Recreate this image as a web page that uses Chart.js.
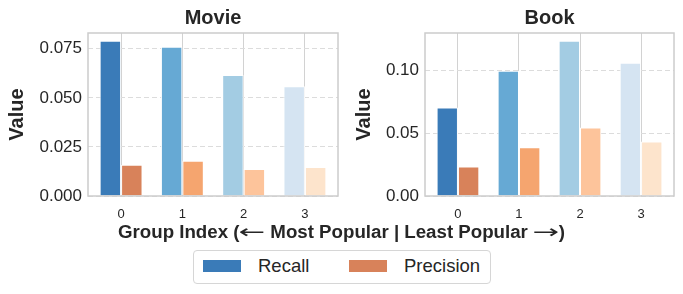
<!DOCTYPE html>
<html>
<head>
<meta charset="utf-8">
<script src="https://cdn.jsdelivr.net/npm/chart.js@4.4.0/dist/chart.umd.min.js"></script>
<style>
  body { margin: 0; background: #fff; font-family: "Liberation Sans", Arial, sans-serif; color: #262626; }
  #wrap { position: relative; width: 683px; height: 294px; overflow: hidden; }
  #wrap canvas { position: absolute; top: 0; }
  #xlabel { position: absolute; left: 0; width: 683px; top: 222px; text-align: center; font-weight: bold; font-size: 18.7px; line-height: 20px; white-space: nowrap; }
  #xlabel .arr { display: inline-block; font-family: "DejaVu Sans", sans-serif; font-weight: normal; transform: scaleX(1.7); margin: 0 5px; }
  #legend { position: absolute; left: 193px; top: 250px; width: 298px; height: 34px; box-sizing: border-box;
            border: 1px solid #d6d6d6; border-radius: 4px; background: #fff; }
  .patch { position: absolute; top: 9px; width: 38px; height: 12px; }
  .ltext { position: absolute; top: 5px; font-size: 18.5px; line-height: 20px; }
</style>
</head>
<body>
<div id="wrap">
  <canvas id="movie" width="345" height="225" style="left:0"></canvas>
  <canvas id="book" width="343" height="225" style="left:340px"></canvas>
  <div id="xlabel">Group Index (<span class="arr">←</span> Most Popular | Least Popular <span class="arr">→</span>)</div>
  <div id="legend"></div>
</div>
<script>
// data
const groups = ['0', '1', '2', '3'];
const seriesNames = ['Recall', 'Precision'];

const movieRecall    = [0.0791, 0.0760, 0.0616, 0.0559];
const moviePrecision = [0.0159, 0.0179, 0.0137, 0.0148];
const bookRecall     = [0.0706, 0.0998, 0.1238, 0.1063];
const bookPrecision  = [0.0235, 0.0389, 0.0547, 0.0434];

const movieTicks = [0, 0.025, 0.05, 0.075];
const movieTickLabels = ['0.000', '0.025', '0.050', '0.075'];
const bookTicks = [0, 0.05, 0.10];
const bookTickLabels = ['0.00', '0.05', '0.10'];

// colours: one shade per group
const recallColors    = ['#3a7bb8', '#66a9d4', '#a3cce3', '#d5e4f2'];
const precisionColors = ['#d8825a', '#f5a56f', '#fdc49b', '#fde4cc'];
const textColor = '#262626';
const fontFam = '"Liberation Sans", Arial, sans-serif';

const framePlugin = {
  id: 'frame',
  afterDraw(chart) {
    const { ctx, chartArea: a } = chart;
    ctx.save();
    ctx.strokeStyle = '#cccccc';
    ctx.lineWidth = 1.5;
    ctx.strokeRect(a.left, a.top, a.right - a.left, a.bottom - a.top);
    ctx.restore();
  }
};

function makeChart(id, title, recall, precision, ticks, tickLabels, yWidth, yTitlePad, rightPad) {
  const ymax = Math.max(...recall, ...precision) * 1.05;
  const pts = arr => arr.map((v, i) => ({ x: i, y: v }));
  return new Chart(document.getElementById(id), {
    type: 'bar',
    data: {
      datasets: [
        { label: seriesNames[0], data: pts(recall), backgroundColor: recallColors,
          borderColor: '#ffffff', borderWidth: 1 },
        { label: seriesNames[1], data: pts(precision), backgroundColor: precisionColors,
          borderColor: '#ffffff', borderWidth: 1 }
      ]
    },
    options: {
      responsive: false,
      animation: false,
      categoryPercentage: 0.7,
      barPercentage: 1.0,
      layout: { padding: { left: 0, right: rightPad, top: 0, bottom: 0 } },
      plugins: {
        legend: { display: false },
        tooltip: { enabled: false },
        title: {
          display: true, text: title, color: textColor, fullSize: false,
          font: { family: fontFam, size: 20, weight: 'bold' },
          padding: { top: 6, bottom: 3 }
        }
      },
      scales: {
        x: {
          type: 'linear', min: -0.54, max: 3.54, offset: false,
          grid: { display: true, offset: false, color: '#d2d2d2', lineWidth: 1, drawTicks: false },
          border: { display: false },
          ticks: { color: textColor, padding: 11, font: { family: fontFam, size: 13 },
                   callback: v => groups[v] },
          afterBuildTicks(scale) { scale.ticks = groups.map((g, i) => ({ value: i })); },
          afterFit(scale) { scale.height = 29; }
        },
        y: {
          min: 0, max: ymax,
          grid: { color: '#dcdcdc', lineWidth: 1, drawTicks: false },
          border: { display: false, dash: [5, 3] },
          ticks: {
            color: textColor, padding: 6,
            font: { family: fontFam, size: 17 },
            callback: (v, i) => tickLabels[i]
          },
          afterBuildTicks(scale) { scale.ticks = ticks.map(v => ({ value: v })); },
          afterFit(scale) { scale.width = yWidth; },
          title: {
            display: true, text: 'Value', color: textColor,
            font: { family: fontFam, size: 20, weight: 'bold' },
            padding: { top: yTitlePad, bottom: 0 }
          }
        }
      }
    },
    plugins: [framePlugin]
  });
}

makeChart('movie', 'Movie', movieRecall, moviePrecision, movieTicks, movieTickLabels, 88, 5, 7);
makeChart('book', 'Book', bookRecall, bookPrecision, bookTicks, bookTickLabels, 85, 12, 9);

// legend built from the series names
const legend = document.getElementById('legend');
const legendPos = [{ patch: 9, text: 64 }, { patch: 155, text: 210 }];
seriesNames.forEach((name, i) => {
  const p = document.createElement('div');
  p.className = 'patch';
  p.style.left = legendPos[i].patch + 'px';
  p.style.background = i === 0 ? recallColors[0] : precisionColors[0];
  legend.appendChild(p);
  const t = document.createElement('div');
  t.className = 'ltext';
  t.style.left = legendPos[i].text + 'px';
  t.textContent = name;
  legend.appendChild(t);
});
</script>
</body>
</html>
